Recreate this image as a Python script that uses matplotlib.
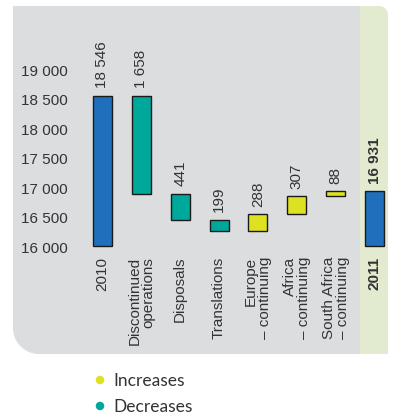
import matplotlib
matplotlib.use("Agg")
import matplotlib.pyplot as plt
import numpy as np
from matplotlib.patches import Polygon, Ellipse

# data
categories = ["2010", "Discontinued\noperations", "Disposals", "Translations",
              "Europe\n– continuing", "Africa\n– continuing",
              "South Africa\n– continuing", "2011"]
changes = [18546, -1658, -441, -199, 288, 307, 88, 16931]
value_labels = ["18 546", "1 658", "441", "199", "288", "307", "88", "16 931"]
kinds = ["total", "dec", "dec", "dec", "inc", "inc", "inc", "total"]
yticks = [16000, 16500, 17000, 17500, 18000, 18500, 19000]
legend_labels = ["Increases", "Decreases"]

colors = {"total": "#1f6fbd", "dec": "#00a89c", "inc": "#dde122"}
txt = "#333333"
font = "Liberation Sans"

W, H = 394, 414
fig = plt.figure(figsize=(W / 100, H / 100), dpi=100)


def fx(x):
    return x / W


def fy(y):
    return 1 - y / H


def rounded_poly(x0, y0, x1, y1, r_tl=0, r_tr=0, r_br=0, r_bl=0, n=20):
    # pixel coords, y downwards
    pts = []

    def arc(cx, cy, r, a0, a1):
        for a in np.linspace(a0, a1, n):
            pts.append((cx + r * np.cos(a), cy + r * np.sin(a)))
    arc(x0 + r_tl, y0 + r_tl, r_tl, np.pi, 1.5 * np.pi)
    arc(x1 - r_tr, y0 + r_tr, r_tr, 1.5 * np.pi, 2 * np.pi)
    arc(x1 - r_br, y1 - r_br, r_br, 0, 0.5 * np.pi)
    arc(x0 + r_bl, y1 - r_bl, r_bl, 0.5 * np.pi, np.pi)
    return [(fx(a), fy(b)) for a, b in pts]


fig.add_artist(Polygon(rounded_poly(13, 7, 361, 355, r_bl=26), closed=True,
                       transform=fig.transFigure, facecolor="#dcdddf",
                       edgecolor="none", zorder=0))
fig.add_artist(Polygon(rounded_poly(360, 7, 388, 355, r_tr=9), closed=True,
                       transform=fig.transFigure, facecolor="#e2ead0",
                       edgecolor="none", zorder=0))

# axes placed so that 16 000 -> y 247 px, 19 000 -> y 70 px
ppu = 177 / 3000
left_px, right_px, top_px, bot_px = 75, 394, 7, 355
c0, step = 102.5, 38.86
ax = fig.add_axes([fx(left_px), fy(bot_px), fx(right_px - left_px), (bot_px - top_px) / H])
ax.set_xlim((left_px - c0) / step, (right_px - c0) / step)
ax.set_ylim(16000 - (bot_px - 247) / ppu, 16000 + (247 - top_px) / ppu)
ax.patch.set_visible(False)
for s in ax.spines.values():
    s.set_visible(False)
ax.set_xticks([])
ax.set_yticks(yticks)
ax.set_yticklabels([f"{v:,}".replace(",", " ") for v in yticks],
                   fontsize=11, color=txt, fontfamily=font)
ax.tick_params(axis="y", length=0, pad=5)

x = np.arange(len(categories))
bottoms, heights = [], []
running = 0
for c, k in zip(changes, kinds):
    if k == "total":
        bottoms.append(16000)
        heights.append(c - 16000)
        running = c
    else:
        if c < 0:
            bottoms.append(running + c)
        else:
            bottoms.append(running)
        heights.append(abs(c))
        running += c

ax.bar(x, heights, bottom=bottoms, width=0.49,
       color=[colors[k] for k in kinds], edgecolor="#1a1a1a", linewidth=1, zorder=3)

for i in x:
    top = bottoms[i] + heights[i]
    bold = i == len(x) - 1
    ax.annotate(value_labels[i], (i, top), xytext=(0, 6), textcoords="offset points",
                rotation=90, ha="center", va="bottom", fontsize=11, color=txt,
                fontfamily=font, fontweight="bold" if bold else "normal")
    ax.annotate(categories[i], (i, 16000), xytext=(0, -7), textcoords="offset points",
                rotation=90, ha="center", va="top", multialignment="right",
                fontsize=11, color=txt, fontfamily=font, linespacing=1.0,
                fontweight="bold" if bold else "normal")

# legend
for j, (lab, col) in enumerate(zip(legend_labels, [colors["inc"], colors["dec"]])):
    yc = 381 + 26 * j
    fig.add_artist(Ellipse((fx(100), fy(yc)), 8.5 / W, 8.5 / H,
                           transform=fig.transFigure, facecolor=col, edgecolor="none"))
    fig.text(fx(113), fy(yc), lab, fontsize=12.5, color=txt, fontfamily="Lato",
             va="center", ha="left")

fig.savefig("out.png", dpi=100)
